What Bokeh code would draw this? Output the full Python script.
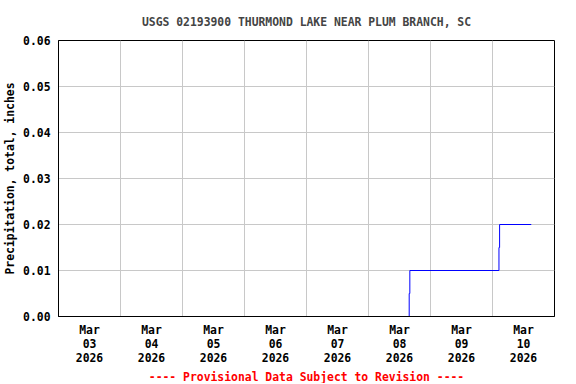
import pandas as pd
from bokeh.plotting import figure
from bokeh.models import FixedTicker, DatetimeTickFormatter, PrintfTickFormatter, Title, Range1d
from bokeh.embed import file_html
from bokeh.resources import INLINE

# ---- data ----
title_text = "USGS 02193900 THURMOND LAKE NEAR PLUM BRANCH, SC"
y_label = "Precipitation, total, inches"
footer_text = "---- Provisional Data Subject to Revision ----"

# first record segment (before a short gap)
seg1_times = ["2026-03-03 00:00", "2026-03-08 02:00"]
seg1_values = [0.00, 0.00]
# second record segment
seg2_times = ["2026-03-08 02:30", "2026-03-08 15:45", "2026-03-08 16:00",
              "2026-03-10 02:30", "2026-03-10 02:45", "2026-03-10 15:00"]
seg2_values = [0.00, 0.005, 0.01, 0.015, 0.02, 0.02]

x_start = "2026-03-03 00:00"
x_end = "2026-03-11 00:00"
label_days = ["2026-03-03", "2026-03-04", "2026-03-05", "2026-03-06",
              "2026-03-07", "2026-03-08", "2026-03-09", "2026-03-10"]
y_ticks = [0.00, 0.01, 0.02, 0.03, 0.04, 0.05, 0.06]


def ms(ts):
    return (pd.Timestamp(ts) - pd.Timestamp("1970-01-01")) // pd.Timedelta("1ms")


FONT = "DejaVu Sans Mono"
FS = "11.4px"

p = figure(
    x_axis_type="datetime",
    frame_width=496, frame_height=276,
    min_border_left=51, min_border_right=13, min_border_top=32, min_border_bottom=40,
    output_backend="svg", toolbar_location=None,
    x_range=Range1d(ms(x_start), ms(x_end)),
    y_range=Range1d(y_ticks[0], y_ticks[-1]),
)
p.background_fill_color = "white"
p.border_fill_color = "white"
p.outline_line_color = "black"
p.outline_line_width = 1

p.title.text = title_text
p.title.align = "center"
p.title.text_font = FONT
p.title.text_font_size = FS
p.title.text_font_style = "bold"
p.title.standoff = 24

# grid
p.xgrid.ticker = FixedTicker(ticks=[ms(d) for d in label_days] + [ms(x_end)])
p.ygrid.ticker = FixedTicker(ticks=y_ticks)
p.grid.grid_line_color = "#c8c8c8"
p.grid.grid_line_width = 1

# x axis: labels at mid-day
p.xaxis.ticker = FixedTicker(ticks=[ms(d) + 12 * 3600 * 1000 for d in label_days])
p.xaxis.formatter = DatetimeTickFormatter(days="%b\n%d\n%Y", hours="%b\n%d\n%Y")
p.yaxis.ticker = FixedTicker(ticks=y_ticks)
p.yaxis.formatter = PrintfTickFormatter(format="%.2f")
p.yaxis.axis_label = y_label

for ax in (p.xaxis, p.yaxis):
    ax.major_tick_line_color = None
    ax.minor_tick_line_color = None
    ax.major_tick_out = 0
    ax.major_tick_in = 0
    ax.axis_line_color = "black"
    ax.axis_line_width = 1
    ax.major_label_text_font = FONT
    ax.major_label_text_font_size = FS
    ax.major_label_text_font_style = "bold"
    ax.major_label_text_color = "black"
    ax.axis_label_text_font = FONT
    ax.axis_label_text_font_size = FS
    ax.axis_label_text_font_style = "bold"
    ax.axis_label_text_color = "black"

p.yaxis.major_label_standoff = 8
p.yaxis.axis_label_standoff = 3
p.xaxis.major_label_standoff = 6
p.xaxis.major_label_text_line_height = 1.0

p.step(x=[ms(t) for t in seg1_times], y=seg1_values, mode="after", line_color="#0000ff", line_width=1)
p.step(x=[ms(t) for t in seg2_times], y=seg2_values, mode="after", line_color="#0000ff", line_width=1)

footer = Title(text=footer_text, align="center", text_color="red", text_font=FONT,
               text_font_size=FS, text_font_style="bold", standoff=0)
p.add_layout(footer, "below")

open("out.html", "w").write(file_html(p, INLINE))
